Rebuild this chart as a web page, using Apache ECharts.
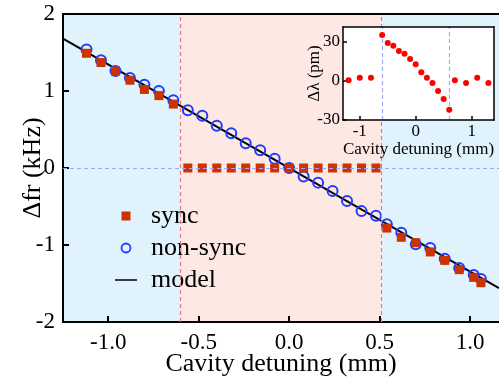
<!DOCTYPE html>
<html>
<head>
<meta charset="utf-8">
<script src="https://cdn.jsdelivr.net/npm/echarts@6/dist/echarts.min.js"></script>
<style>html,body{margin:0;padding:0;background:#fff}#c{width:499px;height:379px}</style>
</head>
<body>
<div id="c"></div>
<script>
// ---- data ----
var mainX = [-1.12,-1.04,-0.96,-0.88,-0.80,-0.72,-0.64,-0.56,-0.48,-0.40,-0.32,-0.24,-0.16,-0.08,0,0.08,0.16,0.24,0.32,0.40,0.48,0.54,0.62,0.70,0.78,0.86,0.94,1.02,1.06];
var syncY = [1.49,1.37,1.26,1.14,1.02,0.94,0.83,0,0,0,0,0,0,0,0,0,0,0,0,0,0,-0.78,-0.90,-0.97,-1.09,-1.20,-1.32,-1.42,-1.49];
var nonSyncY = [1.54,1.40,1.26,1.17,1.08,1.00,0.88,0.75,0.68,0.55,0.45,0.32,0.23,0.12,0,-0.11,-0.19,-0.30,-0.43,-0.56,-0.62,-0.73,-0.84,-0.99,-1.04,-1.18,-1.30,-1.39,-1.44];
var modelX = [-1.25, 1.16];
var modelY = [1.68, -1.56];
var regionEdges = [-0.6, 0.51];
var mainXRange = [-1.25, 1.16];
var mainXTicks = [-1.0, -0.5, 0, 0.5, 1.0];
var mainYTicks = [-2, -1, 0, 1, 2];

var insetX = [-1.2,-1.0,-0.8,-0.6,-0.5,-0.4,-0.3,-0.2,-0.1,0,0.1,0.2,0.3,0.4,0.5,0.6,0.7,0.9,1.1,1.3];
var insetY = [0.3,2.3,2.3,34.9,28.8,26.7,22.6,20.6,16.5,12.5,6.4,2.3,-1.8,-7.9,-14,-22.1,0.3,-1.8,2.3,-1.8];
var insetEdges = [-0.6, 0.6];
var insetXRange = [-1.3, 1.4];
var insetYRange = [-30, 41];
var insetXTicks = [-1, 0, 1];
var insetYTicks = [-30, 0, 30];

function zip(a, b) { return a.map(function (v, i) { return [v, b[i]]; }); }

var FONT = 'Liberation Serif';
var frameAxis = function (type, grid, pos, range, z, w) {
  return {gridIndex: grid, type: 'value', position: pos, min: range[0], max: range[1], z: z,
    axisLine: {show: true, onZero: false, lineStyle: {color: '#000', width: w}},
    axisTick: {show: false}, axisLabel: {show: false}, splitLine: {show: false}};
};
var chart = echarts.init(document.getElementById('c'), null, {renderer: 'canvas'});
chart.setOption({
  animation: false,
  backgroundColor: '#fff',
  textStyle: {fontFamily: FONT, color: '#000'},
  grid: [
    {left: 63, top: 14, width: 436, height: 308, containLabel: false, outerBoundsMode: 'none'},
    {left: 343, top: 27, width: 151, height: 93, show: true, z: 6, outerBoundsMode: 'none',
     backgroundColor: '#fff', borderWidth: 0}
  ],
  legend: {
    orient: 'vertical', left: 110, top: 198, itemWidth: 22, itemHeight: 9, itemGap: 6,
    symbolKeepAspect: true,
    textStyle: {fontFamily: FONT, fontSize: 26, color: '#000', lineHeight: 26, padding: [0, 0, 0, 9]},
    data: [
      {name: 'sync', icon: 'path://M0,0L10,0L10,10L0,10Z', itemStyle: {color: '#cc3300', opacity: 1}},
      {name: 'non-sync', icon: 'circle', itemStyle: {color: 'transparent', borderColor: '#1f3cff', borderWidth: 1.8}},
      {name: 'model', icon: 'path://M0,0L22,0L22,1.5L0,1.5Z', itemStyle: {color: '#000'}}
    ]
  },
  xAxis: [
    {gridIndex: 0, type: 'value', min: mainXRange[0], max: mainXRange[1], z: 3,
     name: 'Cavity detuning (mm)', nameLocation: 'middle', nameGap: 29, nameMoveOverlap: false,
     nameTextStyle: {fontFamily: FONT, fontSize: 26, color: '#000'},
     axisLine: {onZero: false, lineStyle: {color: '#000', width: 2}},
     axisTick: {inside: true, length: 6, lineStyle: {color: '#000', width: 2}, customValues: mainXTicks},
     axisLabel: {fontFamily: FONT, fontSize: 23, color: '#000', margin: 9, customValues: mainXTicks,
       formatter: function (v) { return v.toFixed(1); }},
     splitLine: {show: false}},
    frameAxis('x', 0, 'top', mainXRange, 3, 2),
    {gridIndex: 1, type: 'value', min: insetXRange[0], max: insetXRange[1], z: 7,
     name: 'Cavity detuning (mm)', nameLocation: 'middle', nameGap: 21, nameMoveOverlap: false,
     nameTextStyle: {fontFamily: FONT, fontSize: 17, color: '#000'},
     axisLine: {show: true, onZero: false, lineStyle: {color: '#000', width: 1.5}},
     axisTick: {inside: true, length: 4, lineStyle: {color: '#000', width: 1.5}, customValues: insetXTicks},
     axisLabel: {fontFamily: FONT, fontSize: 17, color: '#000', margin: 3, customValues: insetXTicks},
     splitLine: {show: false}},
    frameAxis('x', 1, 'top', insetXRange, 7, 1.5)
  ],
  yAxis: [
    {gridIndex: 0, type: 'value', min: -2, max: 2, interval: 1, z: 3,
     name: 'Δfr (kHz)', nameLocation: 'middle', nameGap: 17, nameRotate: 90, nameMoveOverlap: false,
     nameTextStyle: {fontFamily: FONT, fontSize: 26, color: '#000'},
     axisLine: {show: true, onZero: false, lineStyle: {color: '#000', width: 2}},
     axisTick: {show: true, inside: true, length: 6, lineStyle: {color: '#000', width: 2}},
     axisLabel: {fontFamily: FONT, fontSize: 23, color: '#000', margin: 8},
     splitLine: {show: false}},
    {gridIndex: 1, type: 'value', min: insetYRange[0], max: insetYRange[1], z: 7,
     name: 'Δλ (pm)', nameLocation: 'middle', nameGap: 20, nameRotate: 90, nameMoveOverlap: false,
     nameTextStyle: {fontFamily: FONT, fontSize: 17, color: '#000'},
     axisLine: {show: true, onZero: false, lineStyle: {color: '#000', width: 1.5}},
     axisTick: {show: true, inside: true, length: 4, lineStyle: {color: '#000', width: 1.5}, customValues: insetYTicks},
     axisLabel: {fontFamily: FONT, fontSize: 17, color: '#000', margin: 3, customValues: insetYTicks},
     splitLine: {show: false}},
    frameAxis('y', 1, 'right', insetYRange, 7, 1.5)
  ],
  series: [
    {name: 'model', type: 'line', xAxisIndex: 0, yAxisIndex: 0, z: 2,
     data: zip(modelX, modelY), symbol: 'none', showSymbol: false,
     lineStyle: {color: '#000', width: 2}, itemStyle: {color: '#000'},
     markArea: {silent: true, z: 1, data: [
       [{xAxis: mainXRange[0], itemStyle: {color: '#e0f3fd'}}, {xAxis: regionEdges[0]}],
       [{xAxis: regionEdges[0], itemStyle: {color: '#fde8e3'}}, {xAxis: regionEdges[1]}],
       [{xAxis: regionEdges[1], itemStyle: {color: '#e0f3fd'}}, {xAxis: mainXRange[1]}]
     ]},
     markLine: {silent: true, symbol: 'none', z: 5, label: {show: false}, data: [
       {xAxis: regionEdges[0], lineStyle: {color: '#e77a7a', type: [4, 3], width: 1.2}},
       {xAxis: regionEdges[1], lineStyle: {color: '#e77a7a', type: [4, 3], width: 1.2}},
       {yAxis: 0, lineStyle: {color: '#9fa6ff', type: [4, 3], width: 1}}
     ]}},
    {name: 'non-sync', type: 'scatter', xAxisIndex: 0, yAxisIndex: 0, z: 3,
     data: zip(mainX, nonSyncY), symbol: 'circle', symbolSize: 10,
     itemStyle: {color: 'transparent', borderColor: '#1f3cff', borderWidth: 2, opacity: 1}},
    {name: 'sync', type: 'scatter', xAxisIndex: 0, yAxisIndex: 0, z: 4,
     data: zip(mainX, syncY), symbol: 'rect', symbolSize: 9,
     itemStyle: {color: '#cc3300', opacity: 1}},
    {name: 'inset', type: 'scatter', xAxisIndex: 2, yAxisIndex: 1, z: 8,
     data: zip(insetX, insetY), symbol: 'circle', symbolSize: 6,
     itemStyle: {color: '#ff0000', opacity: 1},
     markLine: {silent: true, symbol: 'none', z: 7, label: {show: false}, data: [
       {xAxis: insetEdges[0], lineStyle: {color: '#9fa6ff', type: [4, 3], width: 1.2}},
       {xAxis: insetEdges[1], lineStyle: {color: '#9fa6ff', type: [4, 3], width: 1.2}}
     ]}}
  ]
});
</script>
</body>
</html>
